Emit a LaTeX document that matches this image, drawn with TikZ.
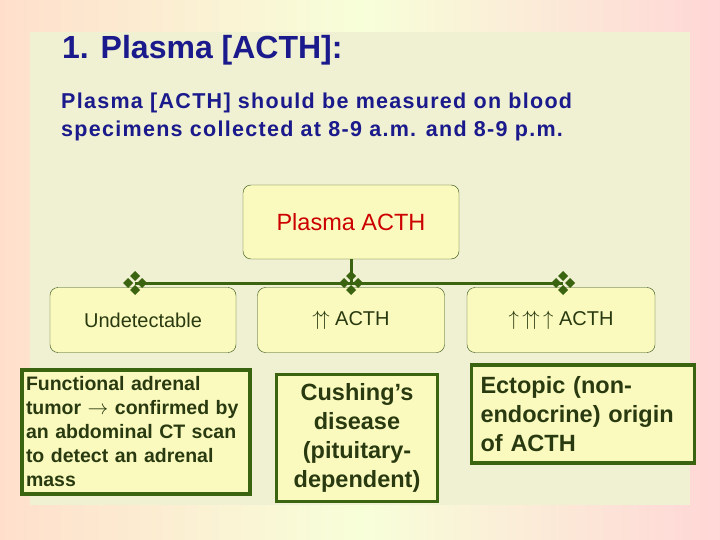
\documentclass[tikz,border=0pt]{standalone}
\usepackage{fontspec}
\setmainfont{Liberation Sans}
\usetikzlibrary{positioning,calc}
\definecolor{darkgrn}{HTML}{3A6410}
\definecolor{boxfill}{HTML}{FAFABE}
\definecolor{panel}{HTML}{F0F0D2}
\definecolor{titleblue}{HTML}{1A1A8C}
\definecolor{txtdark}{HTML}{2A3A10}
\tikzset{
  smallbox/.style={draw=darkgrn!80!black, fill=boxfill, rounded corners=8pt, thin, minimum height=65pt},
  bigbox/.style={draw=darkgrn, fill=boxfill, line width=3.5pt, align=left, inner sep=0pt},
  link/.style={darkgrn, line width=3pt}
}
\newcommand{\fourdia}[1]{%
  \foreach \dx/\dy in {0/-7,0/7,-7/0,7/0}
    \fill[darkgrn] ($(#1)+(\dx,\dy)$) ++(0,-5) -- ++(5,5) -- ++(-5,5) -- ++(-5,-5) -- cycle;}
\begin{document}
\begin{tikzpicture}[x=1pt,y=-1pt]
    % Fondo
    \shade[left color=red!25!orange!20, right color=red!20!pink!40, middle color=green!20!yellow!15] (0,0) rectangle (720,540);
    \fill[panel] (30,32) rectangle (690,505);
    \useasboundingbox (0,0) rectangle (720,540);

    % Titulos
    \node[anchor=west, inner sep=0pt, text=titleblue, font=\bfseries\fontsize{32}{36}\selectfont] (title) at (62,50) {1. Plasma [ACTH]:};
    \node[anchor=north west, inner sep=0pt, text=titleblue, font=\bfseries\fontsize{21.5}{28}\selectfont, align=left] (sub) at (61,93)
      {\addfontfeature{LetterSpace=6}Plasma [ACTH] should be measured on blood\\\addfontfeature{LetterSpace=6}specimens collected at 8-9 a.m. and 8-9 p.m.};

    % Cajas
    \node[smallbox, minimum width=216pt, minimum height=74pt, text=red!80!black, font=\fontsize{23.5}{26}\selectfont] (plasma) at (351,222) {Plasma ACTH};
    \node[smallbox, minimum width=186pt, text=txtdark, font=\fontsize{20}{24}\selectfont] (undet) at (143,320) {Undetectable};
    \node[smallbox, minimum width=187pt, text=txtdark, font=\fontsize{20}{24}\selectfont] (high) at (351,320) {$\uparrow\!\uparrow$ ACTH};
    \node[smallbox, minimum width=188pt, text=txtdark, font=\fontsize{20}{24}\selectfont] (vhigh) at (561,320) {$\uparrow\,\uparrow\!\uparrow\,\uparrow$ ACTH};

    \node[bigbox, minimum width=228pt, minimum height=124pt, text width=220pt, text=txtdark, font=\bfseries\fontsize{19.5}{24}\selectfont] (adrenal) at (136,432)
      {Functional adrenal\\tumor $\rightarrow$ confirmed by\\an abdominal CT scan\\to detect an adrenal\\mass};
    \node[bigbox, minimum width=161pt, minimum height=127pt, align=center, text width=155pt, text=txtdark, font=\bfseries\fontsize{23.5}{29}\selectfont] (cushing) at (357,438)
      {Cushing's\\disease\\(pituitary-\\dependent)};
    \node[bigbox, minimum width=223pt, minimum height=98pt, text width=205pt, text=txtdark, font=\bfseries\fontsize{23.5}{29}\selectfont] (ectopic) at (583,414)
      {Ectopic (non-\\endocrine) origin\\of ACTH};

    % Conectores
    \coordinate (jl) at (135,283);
    \coordinate (jm) at (351,283);
    \coordinate (jr) at (563,283);
    \draw[link] (plasma.south) -- (jm);
    \draw[link] (jl) -- (jr);
    \fourdia{jl}
    \fourdia{jm}
    \fourdia{jr}
\end{tikzpicture}
\end{document}
